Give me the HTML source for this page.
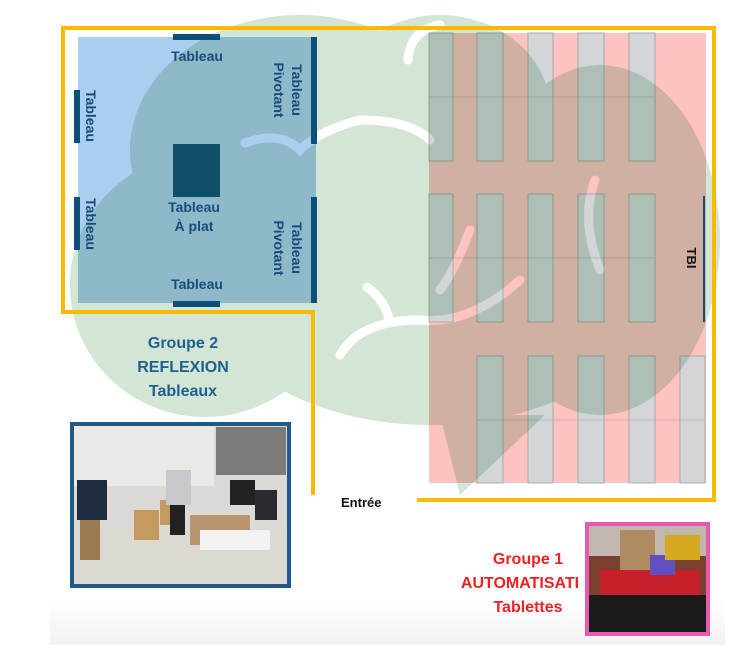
<!DOCTYPE html>
<html><head><meta charset="utf-8"><style>
html,body{margin:0;padding:0;background:#fff;}
svg{display:block;font-family:"Liberation Sans",sans-serif;font-weight:bold;}
.blend{mix-blend-mode:multiply;}
</style></head><body>
<svg width="752" height="670" viewBox="0 0 752 670" xmlns="http://www.w3.org/2000/svg">
<defs>
<linearGradient id="bg" x1="0" y1="0" x2="0" y2="1"><stop offset="0" stop-color="#fff"/><stop offset="1" stop-color="#f1f1f1"/></linearGradient>
</defs>
<rect x="50" y="600" width="675" height="45" fill="url(#bg)"/>
<rect x="78" y="37" width="238" height="266" fill="#abcdef"/>
<rect x="429" y="33" width="277" height="450" fill="#fcc3c0"/>
<g fill="#d3d5d8" stroke="#9aa0a0" stroke-width="0.8">
<rect x="429" y="33" width="24" height="128"/><rect x="477" y="33" width="26" height="128"/><rect x="528" y="33" width="25" height="128"/><rect x="578" y="33" width="26" height="128"/><rect x="629" y="33" width="26" height="128"/>
<rect x="429" y="194" width="24" height="128"/><rect x="477" y="194" width="26" height="128"/><rect x="528" y="194" width="25" height="128"/><rect x="578" y="194" width="26" height="128"/><rect x="629" y="194" width="26" height="128"/>
<rect x="477" y="356" width="26" height="127"/><rect x="528" y="356" width="25" height="127"/><rect x="578" y="356" width="26" height="127"/><rect x="629" y="356" width="26" height="127"/><rect x="680" y="356" width="25" height="127"/>
</g>
<g stroke="#9aa0a0" stroke-width="0.6">
<line x1="429" y1="97" x2="655" y2="97"/><line x1="429" y1="258" x2="655" y2="258"/><line x1="477" y1="420" x2="705" y2="420"/>
</g>
<g class="blend">
<g fill="#d3e6d6">
<ellipse cx="205" cy="285" rx="135" ry="132"/>
<ellipse cx="300" cy="150" rx="170" ry="135"/>
<ellipse cx="430" cy="290" rx="220" ry="135"/>
<ellipse cx="600" cy="240" rx="120" ry="175"/>
<ellipse cx="440" cy="110" rx="110" ry="95"/>
<polygon points="440,415 545,415 460,495"/>
</g>
<g fill="none" stroke="#fff" stroke-width="9" stroke-linecap="round">
<path d="M340,355 Q360,320 420,320 Q470,325 520,280"/>
<path d="M367,287 Q385,300 390,322"/>
<path d="M245,143 Q280,130 300,150 Q320,130 360,120 Q410,120 430,140"/>
<path d="M408,60 Q410,30 440,25"/>
<path d="M595,180 Q580,220 600,270"/>
<path d="M470,230 Q455,270 440,290"/>
</g>
</g>
<g fill="none" stroke="#fbb900" stroke-width="4">
<polyline points="313,495 313,312 63,312 63,28 714,28 714,500 417,500"/>
</g>
<g fill="#0e4f7a">
<rect x="173" y="34" width="47" height="6"/><rect x="173" y="301" width="47" height="6"/>
<rect x="74" y="90" width="6" height="53"/><rect x="74" y="197" width="6" height="53"/>
<rect x="311" y="37" width="6" height="107"/><rect x="311" y="197" width="6" height="106"/>
<rect x="703" y="196" width="2" height="126"/>
</g>
<rect x="173" y="144" width="47" height="53" fill="#0e5068"/>
<g fill="#174d7c" font-size="14">
<text x="197" y="61" text-anchor="middle">Tableau</text>
<text x="197" y="289" text-anchor="middle">Tableau</text>
<text x="194" y="212" text-anchor="middle">Tableau</text>
<text x="194" y="231" text-anchor="middle">À plat</text>
<text transform="translate(86,116) rotate(90)" text-anchor="middle">Tableau</text>
<text transform="translate(86,224) rotate(90)" text-anchor="middle">Tableau</text>
<text transform="translate(292,90) rotate(90)" text-anchor="middle">Tableau</text>
<text transform="translate(274,90) rotate(90)" text-anchor="middle">Pivotant</text>
<text transform="translate(292,248) rotate(90)" text-anchor="middle">Tableau</text>
<text transform="translate(274,248) rotate(90)" text-anchor="middle">Pivotant</text>
</g>
<text transform="translate(687,258) rotate(90)" text-anchor="middle" font-size="13" fill="#111">TBI</text>
<g fill="#1f5f8f" font-size="16" text-anchor="middle">
<text x="183" y="348">Groupe 2</text><text x="183" y="372">REFLEXION</text><text x="183" y="396">Tableaux</text>
</g>
<text x="341" y="507" font-size="13" fill="#111">Entrée</text>
<g fill="#ee2222" font-size="16" text-anchor="middle">
<text x="528" y="564">Groupe 1</text><text x="520" y="588">AUTOMATISATI</text><text x="528" y="612">Tablettes</text>
</g>
<rect x="72" y="424" width="217" height="162" fill="#ddd9d6" stroke="#1e5a8c" stroke-width="4"/>
<rect x="74" y="426" width="140" height="60" fill="#ebe8e6"/>
<rect x="216" y="427" width="70" height="48" fill="#7d7b7a"/>
<rect x="74" y="530" width="213" height="54" fill="#dcd8d2"/>
<rect x="77" y="480" width="30" height="40" fill="#1f2b40"/><rect x="80" y="520" width="20" height="40" fill="#9a7a50"/>
<rect x="134" y="510" width="25" height="30" fill="#c59a60"/><rect x="160" y="500" width="25" height="25" fill="#c59a60"/>
<rect x="166" y="470" width="25" height="35" fill="#c8c8cc"/><rect x="170" y="505" width="15" height="30" fill="#222"/>
<rect x="190" y="515" width="60" height="30" fill="#b99670"/>
<rect x="200" y="530" width="70" height="20" fill="#f2f2f2"/>
<rect x="230" y="480" width="25" height="25" fill="#222"/><rect x="255" y="490" width="22" height="30" fill="#2a2a30"/>
<rect x="587" y="524" width="121" height="110" fill="#7a4030" stroke="#e85aae" stroke-width="4"/>
<rect x="589" y="526" width="117" height="30" fill="#c0b8b0"/>
<rect x="620" y="530" width="35" height="60" fill="#b08a60"/>
<rect x="600" y="570" width="100" height="30" fill="#c8202a"/>
<rect x="650" y="555" width="25" height="20" fill="#6050c0"/>
<rect x="665" y="535" width="35" height="25" fill="#d8a820"/>
<rect x="589" y="595" width="117" height="37" fill="#1a1a1a"/>
</svg>
</body></html>
